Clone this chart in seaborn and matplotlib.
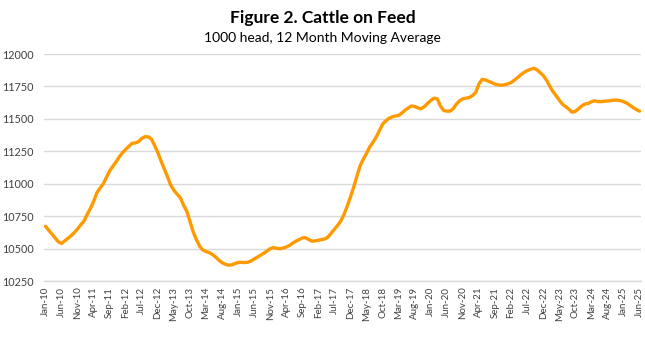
import numpy as np
import pandas as pd
import matplotlib
matplotlib.use("Agg")
import matplotlib.pyplot as plt
import seaborn as sns

# Cattle on feed, 1000 head, 12-month moving average, monthly Jan-2010 .. Jun-2025
cattle_on_feed = [
    10673, 10643, 10613, 10583, 10553, 10540, 10560, 10580, 10600, 10625,
    10652, 10685, 10713, 10765, 10810, 10865, 10930, 10967, 11000, 11050,
    11100, 11135, 11170, 11208, 11240, 11265, 11290, 11312, 11315, 11325,
    11350, 11363, 11362, 11345, 11295, 11240, 11175, 11115, 11055, 10990,
    10950, 10920, 10893, 10835, 10790, 10710, 10630, 10570, 10520, 10490,
    10478, 10470, 10455, 10435, 10412, 10392, 10380, 10373, 10375, 10385,
    10393, 10395, 10393, 10395, 10405, 10420, 10435, 10450, 10465, 10483,
    10500, 10508, 10503, 10500, 10505, 10513, 10525, 10543, 10558, 10570,
    10583, 10585, 10570, 10558, 10560, 10565, 10570, 10575, 10590, 10620,
    10650, 10680, 10715, 10765, 10830, 10900, 10975, 11060, 11140, 11190,
    11235, 11285, 11320, 11360, 11410, 11460, 11485, 11505, 11516, 11523,
    11527, 11545, 11568, 11585, 11600, 11595, 11585, 11578, 11595, 11620,
    11642, 11660, 11655, 11600, 11565, 11560, 11560, 11580, 11615, 11640,
    11655, 11660, 11665, 11680, 11705, 11770, 11805, 11800, 11790, 11780,
    11768, 11762, 11760, 11763, 11770, 11780, 11798, 11818, 11840, 11858,
    11872, 11882, 11890, 11880, 11858, 11835, 11800, 11755, 11712, 11680,
    11645, 11614, 11595, 11575, 11552, 11558, 11578, 11600, 11615, 11619,
    11632, 11640, 11634, 11633, 11636, 11638, 11642, 11645, 11645, 11641,
    11633, 11622, 11605, 11588, 11572, 11560,
]

tick_labels = [
    "Jan-10", "Jun-10", "Nov-10", "Apr-11", "Sep-11", "Feb-12", "Jul-12",
    "Dec-12", "May-13", "Oct-13", "Mar-14", "Aug-14", "Jan-15", "Jun-15",
    "Nov-15", "Apr-16", "Sep-16", "Feb-17", "Jul-17", "Dec-17", "May-18",
    "Oct-18", "Mar-19", "Aug-19", "Jan-20", "Jun-20", "Nov-20", "Apr-21",
    "Sep-21", "Feb-22", "Jul-22", "Dec-22", "May-23", "Oct-23", "Mar-24",
    "Aug-24", "Jan-25", "Jun-25",
]
y_ticks = [10250, 10500, 10750, 11000, 11250, 11500, 11750, 12000]

df = pd.DataFrame({"month": np.arange(len(cattle_on_feed)), "head": cattle_on_feed})

sns.set_theme(style="white")
plt.rcParams["font.family"] = ["Lato", "DejaVu Sans"]

fig = plt.figure(figsize=(6.45, 3.42), dpi=100)
ax = fig.add_axes([0.068, 0.178, 0.926, 0.664])

sns.lineplot(data=df, x="month", y="head", ax=ax, color="#FF9900", linewidth=2.4)

ax.set_xlim(-0.5, len(cattle_on_feed) - 0.5)
ax.set_ylim(10250, 12000)
ax.set_xticks(np.arange(0, len(cattle_on_feed), 5))
ax.set_xticklabels(tick_labels, rotation=90, fontsize=7, color="#404040")
ax.set_yticks(y_ticks)
ax.set_yticklabels([str(v) for v in y_ticks], fontsize=7.8, color="#404040")
ax.tick_params(axis="both", length=0)
ax.tick_params(axis="y", pad=7)
ax.tick_params(axis="x", pad=4)
ax.set_xlabel("")
ax.set_ylabel("")

ax.grid(axis="y", color="#D9D9D9", linewidth=1.0)
ax.set_axisbelow(True)
for side in ["top", "right", "left"]:
    ax.spines[side].set_visible(False)
ax.spines["bottom"].set_color("#D9D9D9")
ax.spines["bottom"].set_linewidth(1.0)

fig.text(0.5, 0.948, "Figure 2. Cattle on Feed", ha="center", va="center",
         fontsize=12.5, fontweight="bold", color="black")
fig.text(0.5, 0.888, "1000 head, 12 Month Moving Average", ha="center",
         va="center", fontsize=10, color="black")

fig.savefig("out.png", dpi=100)
